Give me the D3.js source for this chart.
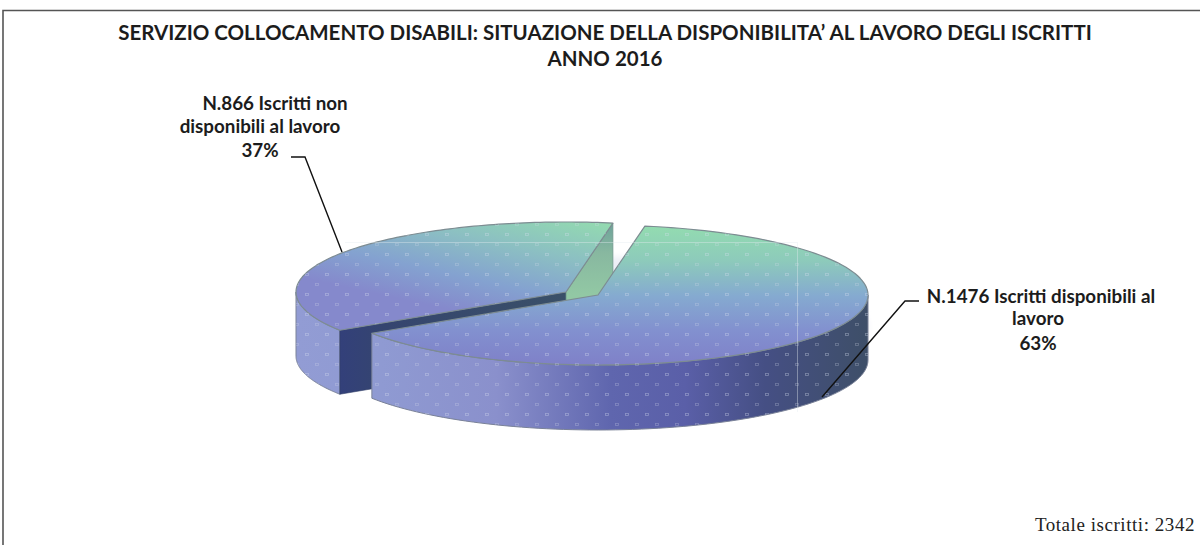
<!DOCTYPE html>
<html><head><meta charset="utf-8">
<script src="https://cdn.jsdelivr.net/npm/d3@7"></script>
<style>html,body{margin:0;padding:0;background:#fff}svg{display:block}</style>
</head><body><div id="c"></div>
<script>
const categories = ["N.1476 Iscritti disponibili al lavoro", "N.866 Iscritti non disponibili al lavoro"];
const values = [1476, 866];
const percents = ["63%", "37%"];
const titleLines = ["SERVIZIO COLLOCAMENTO DISABILI: SITUAZIONE DELLA DISPONIBILITA’ AL LAVORO DEGLI ISCRITTI", "ANNO 2016"];
const labelLines = [["N.1476 Iscritti disponibili al", "lavoro", "63%"], ["N.866 Iscritti non", "disponibili al lavoro", "37%"]];
const footer = "Totale iscritti: 2342";

const W = 1200, H = 545;
const svg = d3.select("#c").append("svg").attr("width", W).attr("height", H);
const defs = svg.append("defs");

const rad = d => d * Math.PI / 180;
const slices = [
  {cx: 598, cy: 295, rx: 270, ry: 70, depth: 65, top: "url(#topMain)"},
  {cx: 566, cy: 292, rx: 270, ry: 70, depth: 64, top: "url(#topOther)"}
];
const pie = d3.pie().sort(null).startAngle(rad(10)).endAngle(rad(370));
const arcs = pie(values);

function grad(id, x1, y1, x2, y2, stops) {
  const g = defs.append("linearGradient").attr("id", id).attr("gradientUnits", "userSpaceOnUse")
    .attr("x1", x1).attr("y1", y1).attr("x2", x2).attr("y2", y2);
  stops.forEach(s => g.append("stop").attr("offset", s[0]).attr("stop-color", s[1]));
}
grad("topMain", 0, 226, 0, 366, [[0, "#93dcb0"], [0.25, "#8dcabb"], [0.5, "#85aad0"], [0.75, "#8290cf"], [1, "#7f80c8"]]);
grad("topOther", 600, 222, 575, 337, [[0, "#93dab0"], [0.35, "#8cc0c2"], [0.7, "#84a2d0"], [1, "#8589cc"]]);
grad("sideG", 296, 0, 868, 0, [[0, "#929cd4"], [0.15, "#8f9ad2"], [0.35, "#8a90cc"], [0.55, "#5f66ae"], [0.68, "#5a5fa8"], [0.82, "#454f84"], [1, "#3e4f68"]]);
grad("wallRidge", 340, 0, 566, 0, [[0, "#33407a"], [0.2, "#35456f"], [1, "#3a5068"]]);
grad("wallGreen", 0, 225, 0, 295, [[0, "#6fa39a"], [0.4, "#88b8a0"], [1, "#92c8a4"]]);

const blur = defs.append("filter").attr("id", "halo").attr("x", "-20%").attr("y", "-40%").attr("width", "140%").attr("height", "180%");
blur.append("feGaussianBlur").attr("stdDeviation", 3);

const pat = defs.append("pattern").attr("id", "dots").attr("patternUnits", "userSpaceOnUse")
  .attr("x", 322).attr("y", 252).attr("width", 20).attr("height", 20);
pat.append("rect").attr("x", 3.5).attr("y", 1.5).attr("width", 3).attr("height", 2).attr("fill", "none").attr("stroke", "#d4dced").attr("stroke-opacity", 0.4).attr("stroke-width", 0.8);
pat.append("rect").attr("x", 13.5).attr("y", 11.5).attr("width", 3).attr("height", 2).attr("fill", "none").attr("stroke", "#d4dced").attr("stroke-opacity", 0.3).attr("stroke-width", 0.8);

const pt = (s, a) => [s.cx + s.rx * Math.sin(a), s.cy - s.ry * Math.cos(a)];

function topPath(s, d) {
  const n = 120, pts = [[s.cx, s.cy]];
  d3.range(n + 1).forEach(i => pts.push(pt(s, d.startAngle + (d.endAngle - d.startAngle) * i / n)));
  return d3.line()(pts) + "Z";
}
function outerWall(s, d) {
  const a0 = Math.max(d.startAngle, rad(90)), a1 = Math.min(d.endAngle, rad(270));
  const n = 80;
  const data = d3.range(n + 1).map(i => pt(s, a0 + (a1 - a0) * i / n));
  return d3.area().x(p => p[0]).y0(p => p[1]).y1(p => p[1] + s.depth)(data);
}
function radialWall(s, angle) {
  const p = pt(s, angle);
  return d3.line()([[s.cx, s.cy], p, [p[0], p[1] + s.depth], [s.cx, s.cy + s.depth]]) + "Z";
}

const edge = "#7d8c92";
const all = svg.append("g");

all.append("path").attr("d", topPath(slices[0], {startAngle: rad(0), endAngle: rad(360)}))
  .attr("fill", "#eceef6").attr("filter", "url(#halo)").attr("transform", "translate(0,32)");

function drawSlice(g, s, d, i) {
  g.append("path").attr("d", outerWall(s, d)).attr("fill", "url(#sideG)").attr("stroke", "#7a8298").attr("stroke-width", 1);
  if (i === 1) {
    g.append("path").attr("d", radialWall(s, d.startAngle)).attr("fill", "url(#wallRidge)").attr("stroke", "#2f3c66").attr("stroke-width", 0.6);
    g.append("path").attr("d", radialWall(s, d.endAngle)).attr("fill", "url(#wallGreen)").attr("stroke", "#70968c").attr("stroke-width", 0.8);
  }
  g.append("path").attr("d", topPath(s, d)).attr("fill", s.top).attr("stroke", edge).attr("stroke-width", 1.2).attr("stroke-linejoin", "round");
  g.append("path").attr("d", outerWall(s, d)).attr("fill", "url(#dots)");
  g.append("path").attr("d", topPath(s, d)).attr("fill", "url(#dots)");
}
drawSlice(all.append("g"), slices[1], arcs[1], 1);
drawSlice(all.append("g"), slices[0], arcs[0], 0);

all.append("path").attr("d", "M345,242.5H797.5V412").attr("fill", "none").attr("stroke", "#e4ebf0").attr("stroke-opacity", 0.4);

svg.append("path").attr("d", "M3,545V10.5H1200").attr("fill", "none").attr("stroke", "#555").attr("stroke-width", 1.6);

const ink = "#1c1c1c";
svg.append("g").selectAll("text").data(titleLines).join("text")
  .attr("x", 605).attr("y", (d, i) => 40 + i * 26).attr("text-anchor", "middle")
  .attr("font-family", "Lato").attr("font-weight", 700).attr("font-size", 20.5).attr("fill", ink).text(d => d);

const labelFont = g => g.attr("font-family", "Lato").attr("font-weight", 700).attr("font-size", 18.8).attr("fill", ink).attr("text-anchor", "middle");
svg.append("g").call(labelFont).selectAll("text").data(labelLines[1]).join("text")
  .attr("x", (d, i) => [275, 260, 260][i]).attr("y", (d, i) => [110, 133, 157][i]).text(d => d);
svg.append("g").call(labelFont).selectAll("text").data(labelLines[0]).join("text")
  .attr("x", (d, i) => [1041, 1038, 1038][i]).attr("y", (d, i) => [303, 325, 350][i]).text(d => d);

const leader = d3.line();
svg.append("path").attr("d", leader([[291, 157], [305, 157], [342, 252]])).attr("fill", "none").attr("stroke", "#111").attr("stroke-width", 1.4);
svg.append("path").attr("d", leader([[919, 301], [905, 301], [822, 397]])).attr("fill", "none").attr("stroke", "#111").attr("stroke-width", 1.4);

svg.append("text").attr("x", 1195).attr("y", 531).attr("text-anchor", "end")
  .attr("font-family", "Liberation Serif").attr("font-size", 19).attr("letter-spacing", 0.55).attr("fill", "#222").text(footer);
</script></body></html>
